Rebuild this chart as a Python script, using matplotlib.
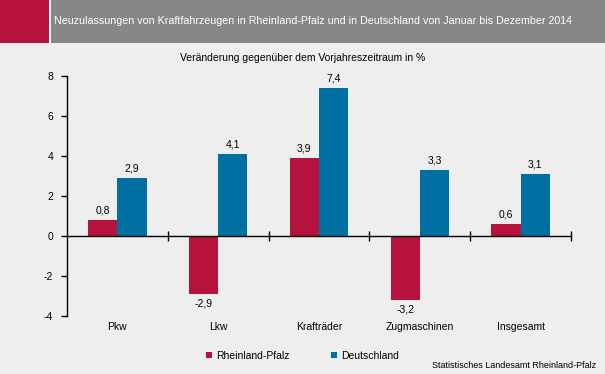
import matplotlib.pyplot as plt
import matplotlib.patches as patches
import numpy as np

plt.rcParams['font.family'] = ['Liberation Sans', 'DejaVu Sans']

categories = ['Pkw', 'Lkw', 'Krafträder', 'Zugmaschinen', 'Insgesamt']
rlp = [0.8, -2.9, 3.9, -3.2, 0.6]
de = [2.9, 4.1, 7.4, 3.3, 3.1]
yticks = [-4, -2, 0, 2, 4, 6, 8]

RED = '#B5123E'
BLUE = '#0070A3'
BG = '#EDEEED'

W, H = 605, 374
fig = plt.figure(figsize=(W / 100, H / 100), dpi=100, facecolor=BG)

# header band
fig.patches.append(patches.Rectangle((0, 1 - 43 / H), 49 / W, 43 / H, transform=fig.transFigure,
                                     facecolor=RED, edgecolor='none'))
fig.patches.append(patches.Rectangle((49 / W, 1 - 43 / H), 2 / W, 43 / H, transform=fig.transFigure,
                                     facecolor='white', edgecolor='none'))
fig.patches.append(patches.Rectangle((51 / W, 1 - 43 / H), 1 - 51 / W, 43 / H, transform=fig.transFigure,
                                     facecolor='#878787', edgecolor='none'))
fig.text(54 / W, 1 - 21 / H,
         'Neuzulassungen von Kraftfahrzeugen in Rheinland-Pfalz und in Deutschland von Januar bis Dezember 2014',
         color='white', fontsize=7.7, va='center', ha='left')
fig.text(0.5, 1 - 58 / H, 'Veränderung gegenüber dem Vorjahreszeitraum in %',
         fontsize=7.5, ha='center', va='center')

ax = fig.add_axes([67 / W, 1 - 316 / H, (571 - 67) / W, (316 - 76) / H])
ax.set_facecolor(BG)

x = np.arange(len(categories))
bw = 0.29
b1 = ax.bar(x - bw / 2, rlp, bw, color=RED, label='Rheinland-Pfalz')
b2 = ax.bar(x + bw / 2, de, bw, color=BLUE, label='Deutschland')

for bars, vals in [(b1, rlp), (b2, de)]:
    for b, v in zip(bars, vals):
        lbl = ('%.1f' % v).replace('.', ',')
        if v >= 0:
            ax.annotate(lbl, (b.get_x() + b.get_width() / 2, v), xytext=(0, 3),
                        textcoords='offset points', ha='center', va='bottom', fontsize=7.5)
        else:
            ax.annotate(lbl, (b.get_x() + b.get_width() / 2, v), xytext=(0, -3),
                        textcoords='offset points', ha='center', va='top', fontsize=7.5)

ax.set_xlim(-0.5, len(categories) - 0.5)
ax.set_ylim(-4, 8)
ax.set_yticks(yticks)
ax.set_yticklabels([str(t) for t in yticks], fontsize=7.5)
ax.tick_params(axis='y', length=4, width=1, pad=6)

ax.spines['top'].set_visible(False)
ax.spines['right'].set_visible(False)
ax.spines['bottom'].set_position(('data', 0))
ax.spines['left'].set_linewidth(1)
ax.spines['bottom'].set_linewidth(1)
ax.set_xticks(np.arange(len(categories)) + 0.5)
ax.set_xticklabels([])
ax.tick_params(axis='x', direction='inout', length=7, width=1)

for i, c in enumerate(categories):
    ax.text(i, -0.045, c, transform=ax.get_xaxis_transform(), ha='center', va='center', fontsize=7.5)

ax.legend(loc='center', bbox_to_anchor=(0.5 * (W) / 504 - 67 / 504 + 0.0, -0.165),
          ncol=2, frameon=False, fontsize=7.5, handlelength=0.6, handleheight=0.6,
          handletextpad=0.4, columnspacing=4)

fig.text(596 / W, 1 - 365 / H, 'Statistisches Landesamt Rheinland-Pfalz',
         fontsize=6.5, ha='right', va='center')

fig.savefig('out.png', dpi=100, facecolor=BG)
